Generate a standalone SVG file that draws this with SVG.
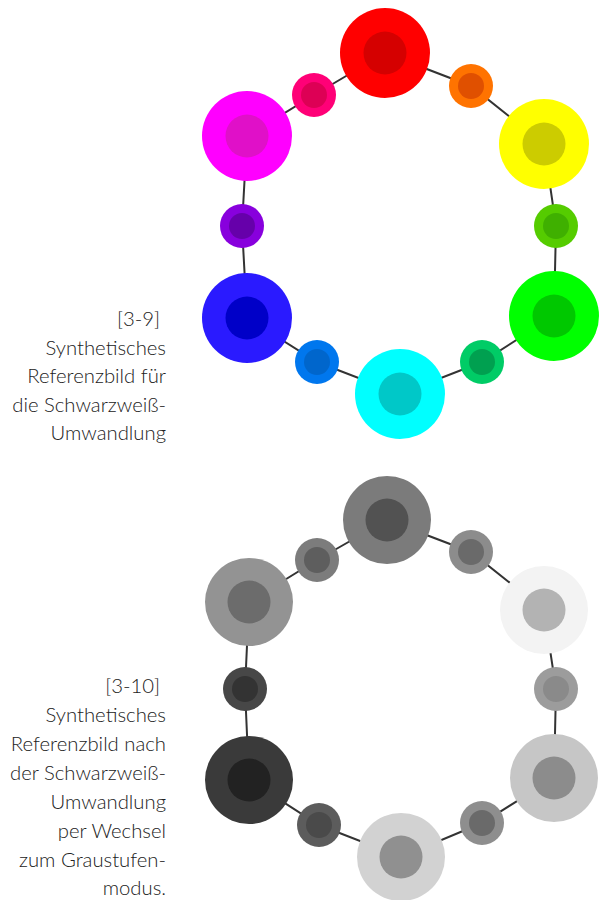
<svg xmlns="http://www.w3.org/2000/svg" width="600" height="900" viewBox="0 0 600 900">
<style>
.cap{font-family:Lato,"Open Sans","Liberation Sans",sans-serif;font-weight:300;font-size:20.3px;fill:#222;text-anchor:end}
.edge{fill:none;stroke:#333;stroke-width:2}
</style>
<rect width="600" height="900" fill="#fff"/>
<g id="connectors">
<polygon class="edge" points="385,53 471,86 544,144 556,226 554,316 482,362 400,394 317,362 247,318 242,226 247,136 314,95"/>
<polygon class="edge" points="387,520 471,552 544,610 556,689 554,778 482,823 401,857 319,825 249,780 245,689 249,602 317,560"/>
</g>
<g id="n-red"><circle cx="385" cy="53" r="45" fill="#ff0000"/><circle cx="385" cy="53" r="21.5" fill="#d50000"/></g>
<g id="n-orange"><circle cx="471" cy="86" r="22" fill="#ff7300"/><circle cx="471" cy="86" r="13" fill="#e05000"/></g>
<g id="n-yellow"><circle cx="544" cy="144" r="45" fill="#ffff00"/><circle cx="544" cy="144" r="21.5" fill="#cccc00"/></g>
<g id="n-lime"><circle cx="556" cy="226" r="22" fill="#55cc00"/><circle cx="556" cy="226" r="13" fill="#3fb000"/></g>
<g id="n-green"><circle cx="554" cy="316" r="45" fill="#00ff00"/><circle cx="554" cy="316" r="21.5" fill="#00c800"/></g>
<g id="n-sea"><circle cx="482" cy="362" r="22" fill="#00cc66"/><circle cx="482" cy="362" r="13" fill="#00a050"/></g>
<g id="n-cyan"><circle cx="400" cy="394" r="45" fill="#00ffff"/><circle cx="400" cy="394" r="21.5" fill="#00c8c8"/></g>
<g id="n-azure"><circle cx="317" cy="362" r="22" fill="#0077ee"/><circle cx="317" cy="362" r="13" fill="#0066cc"/></g>
<g id="n-blue"><circle cx="247" cy="318" r="45" fill="#2a1aff"/><circle cx="247" cy="318" r="21.5" fill="#0000c8"/></g>
<g id="n-violet"><circle cx="242" cy="226" r="22" fill="#8800dd"/><circle cx="242" cy="226" r="13" fill="#6600aa"/></g>
<g id="n-magenta"><circle cx="247" cy="136" r="45" fill="#ff00ff"/><circle cx="247" cy="136" r="21.5" fill="#e010c8"/></g>
<g id="n-rose"><circle cx="314" cy="95" r="22" fill="#ff0077"/><circle cx="314" cy="95" r="13" fill="#dd0055"/></g>

<g id="g-1"><circle cx="387" cy="520" r="44" fill="#7b7b7b"/><circle cx="387" cy="520" r="21.5" fill="#525252"/></g>
<g id="g-2"><circle cx="471" cy="552" r="22" fill="#8c8c8c"/><circle cx="471" cy="552" r="13" fill="#6a6a6a"/></g>
<g id="g-3"><circle cx="544" cy="610" r="44" fill="#f3f3f3"/><circle cx="544" cy="610" r="21.5" fill="#b3b3b3"/></g>
<g id="g-4"><circle cx="556" cy="689" r="22" fill="#9c9c9c"/><circle cx="556" cy="689" r="13" fill="#8a8a8a"/></g>
<g id="g-5"><circle cx="554" cy="778" r="44" fill="#c6c6c6"/><circle cx="554" cy="778" r="21.5" fill="#8c8c8c"/></g>
<g id="g-6"><circle cx="482" cy="823" r="22" fill="#8e8e8e"/><circle cx="482" cy="823" r="13" fill="#6a6a6a"/></g>
<g id="g-7"><circle cx="401" cy="857" r="44" fill="#d2d2d2"/><circle cx="401" cy="857" r="21.5" fill="#909090"/></g>
<g id="g-8"><circle cx="319" cy="825" r="22" fill="#5c5c5c"/><circle cx="319" cy="825" r="13" fill="#4a4a4a"/></g>
<g id="g-9"><circle cx="249" cy="780" r="44" fill="#3a3a3a"/><circle cx="249" cy="780" r="21.5" fill="#222222"/></g>
<g id="g-10"><circle cx="245" cy="689" r="22" fill="#474747"/><circle cx="245" cy="689" r="13" fill="#333333"/></g>
<g id="g-11"><circle cx="249" cy="602" r="44" fill="#939393"/><circle cx="249" cy="602" r="21.5" fill="#6c6c6c"/></g>
<g id="g-12"><circle cx="317" cy="560" r="22" fill="#7c7c7c"/><circle cx="317" cy="560" r="13" fill="#5e5e5e"/></g>

<g id="caption-3-9" class="cap">
<text x="160" y="326">[3-9]</text>
<text x="166" y="355">Synthetisches</text>
<text x="166" y="383">Referenzbild für</text>
<text x="166" y="412">die Schwarzweiß-</text>
<text x="166" y="440">Umwandlung</text>
</g>
<g id="caption-3-10" class="cap">
<text x="160" y="693">[3-10]</text>
<text x="166" y="722">Synthetisches</text>
<text x="166" y="751">Referenzbild nach</text>
<text x="166" y="780">der Schwarzweiß-</text>
<text x="166" y="809">Umwandlung</text>
<text x="166" y="838">per Wechsel</text>
<text x="166" y="867">zum Graustufen-</text>
<text x="166" y="895">modus.</text>
</g>
</svg>
